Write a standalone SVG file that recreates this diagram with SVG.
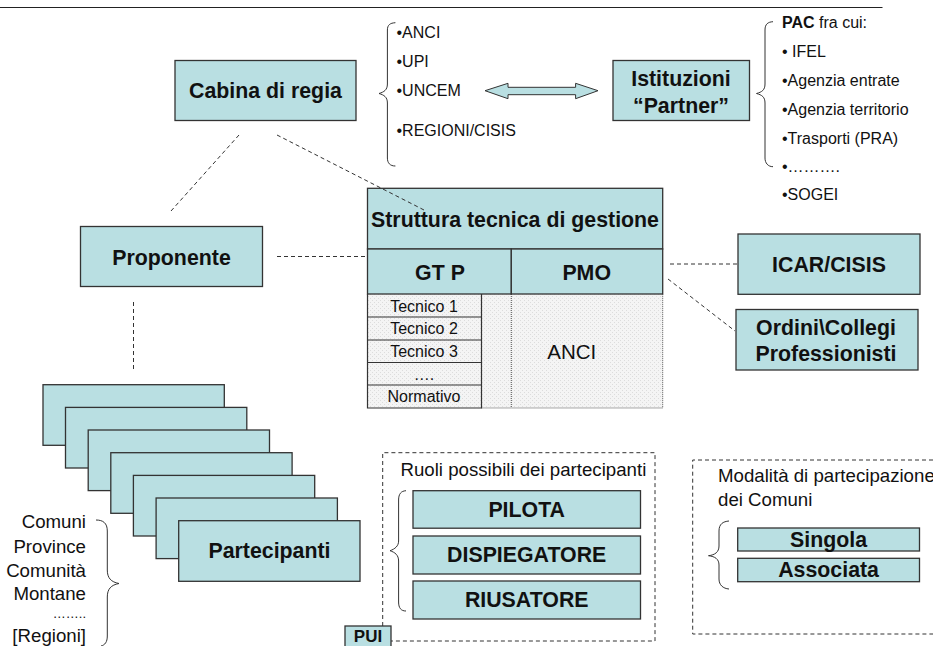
<svg xmlns="http://www.w3.org/2000/svg" width="933" height="646" viewBox="0 0 933 646">
<style>
text{font-family:"Liberation Sans",Arial,sans-serif;fill:#111}
.b{fill:#b9dfe2;stroke:#333;stroke-width:1.3}
.h{font-weight:bold;font-size:21.33px;text-anchor:middle}
.l{font-size:16px}
.m{font-size:18.67px}
.r{font-size:18.67px;text-anchor:end}
.t{font-size:16px;text-anchor:middle}
.br{fill:none;stroke:#333;stroke-width:1}
.d{fill:none;stroke:#333;stroke-width:1;stroke-dasharray:4 3}
</style>
<defs>
<pattern id="dots" width="4" height="4" patternUnits="userSpaceOnUse">
<rect width="4" height="4" fill="#f4f4f4"/>
<rect width="1" height="1" fill="#dcdcdc"/>
<rect x="2" y="2" width="1" height="1" fill="#dcdcdc"/>
</pattern>
</defs>
<rect width="933" height="646" fill="#fff"/>
<line id="top-rule" x1="0" y1="7.5" x2="882.5" y2="7.5" stroke="#222" stroke-width="1.2"/>

<g id="cabina"><rect class="b" x="175" y="60.5" width="181" height="60"/><text class="h" x="265.5" y="98">Cabina di regia</text></g>
<g id="proponente"><rect class="b" x="80.5" y="226.5" width="182" height="60"/><text class="h" x="171.5" y="264.5">Proponente</text></g>

<g id="enti">
<path class="br" d="M395.4 22.7C390 23 387.4 25 387.4 30V84C387.4 90 384 92 379 93.5C384 95 387.4 97 387.4 103V158C387.4 163 390 166 395.4 166"/>
<text class="l" x="396.500" y="38">•ANCI</text>
<text class="l" x="396.500" y="67">•UPI</text>
<text class="l" x="396.500" y="96">•UNCEM</text>
<text class="l" x="396.500" y="136">•REGIONI/CISIS</text>
</g>
<g id="istituzioni"><rect class="b" x="613" y="60.500" width="136.500" height="60"/><text class="h" x="681" y="86">Istituzioni</text><text class="h" x="681" y="112.500">“Partner”</text></g>
<g id="pac">
<path class="br" d="M773 21.700C768 22 765 24 765 30V84C765 90 762 92 756.500 93.500C762 95 765 97 765 103V158C765 163 768 166.700 773 166.700"/>
<text class="l" x="782" y="28"><tspan font-weight="bold">PAC</tspan> fra cui:</text>
<text class="l" x="782" y="57">• IFEL</text>
<text class="l" x="782" y="86">•Agenzia entrate</text>
<text class="l" x="782" y="114.500">•Agenzia territorio</text>
<text class="l" x="782" y="143.500">•Trasporti (PRA)</text>
<text class="l" x="782" y="172">•……….</text>
<text class="l" x="782" y="200">•SOGEI</text>
</g>

<g id="struttura">
<rect x="367.500" y="294" width="295" height="114" fill="url(#dots)"/>
<path d="M481.500 408H662.700V294M511.300 294V408" fill="none" stroke="#555" stroke-width="1" stroke-dasharray="1 1"/>
<rect class="b" x="367.500" y="188.300" width="295.200" height="60.700"/>
<text class="h" x="515" y="226.500">Struttura tecnica di gestione</text>
<rect class="b" x="367.500" y="249" width="143.800" height="45"/>
<rect class="b" x="511.300" y="249" width="151.400" height="45"/>
<text class="h" x="440" y="280">GT P</text>
<text class="h" x="586.700" y="280">PMO</text>
<path d="M367.500 294V408H481.500V294M367.500 317H481.500M367.500 340H481.500M367.500 362.500H481.500M367.500 385H481.500" fill="none" stroke="#333" stroke-width="1.200"/>
<text class="t" x="424" y="311.500">Tecnico 1</text>
<text class="t" x="424" y="334">Tecnico 2</text>
<text class="t" x="424" y="356.500">Tecnico 3</text>
<text class="t" x="424" y="380">….</text>
<text class="t" x="424" y="402">Normativo</text>
<text x="571.700" y="359" font-size="20.500" text-anchor="middle">ANCI</text>
</g>

<g id="icar"><rect class="b" x="738" y="234" width="182" height="60.300"/><text class="h" x="829" y="271.500">ICAR/CISIS</text></g>
<g id="ordini"><rect class="b" x="736" y="309.500" width="182" height="60.500"/><text class="h" x="826" y="335">Ordini\Collegi</text><text class="h" x="826" y="360.500">Professionisti</text></g>

<g id="partecipanti">
<rect class="b" x="43" y="384.700" width="181.300" height="60.600"/>
<rect class="b" x="65.500" y="407.400" width="181.300" height="60.600"/>
<rect class="b" x="88.200" y="430" width="181.300" height="60.600"/>
<rect class="b" x="110.800" y="452.700" width="181.300" height="60.600"/>
<rect class="b" x="133.400" y="475.400" width="181.300" height="60.600"/>
<rect class="b" x="156.100" y="498" width="181.300" height="60.600"/>
<rect class="b" x="178.700" y="520.700" width="181.300" height="60.600"/>
<text class="h" x="269.500" y="558">Partecipanti</text>
</g>
<g id="tipi-enti">
<text class="r" x="86" y="528">Comuni</text>
<text class="r" x="86" y="552.500">Province</text>
<text class="r" x="86" y="576.500">Comunità</text>
<text class="r" x="86" y="600">Montane</text>
<text x="86" y="618" font-size="13" text-anchor="end">……..</text>
<text class="r" x="86" y="641.500">[Regioni]</text>
<path class="br" d="M96 520C103 520 107.300 523 107.300 531V570C107.300 578 111 582 119 583.500C111 585 107.300 589 107.300 597V636C107.300 642 105 645 101 646"/>
</g>

<g id="ruoli">
<path class="d" d="M382.700 626V452.700H655V641H391"/>
<text class="m" x="400.500" y="475.700">Ruoli possibili dei partecipanti</text>
<path class="br" d="M406 490.700C401 491 398.600 494 398.600 500V541C398.600 546 395 549 390 550.700C395 552.400 398.600 555 398.600 561V602C398.600 608 401 611 406 611"/>
<rect class="b" x="413" y="490.700" width="227.500" height="37.500"/><text class="h" x="526.700" y="517">PILOTA</text>
<rect class="b" x="413" y="536" width="227.500" height="38"/><text class="h" x="526.700" y="562">DISPIEGATORE</text>
<rect class="b" x="413" y="581" width="227.500" height="38"/><text class="h" x="526.700" y="607">RIUSATORE</text>
</g>
<g id="pui"><rect class="b" x="345" y="626" width="46" height="30"/><text class="h" x="368" y="642.400" style="font-size:17px">PUI</text></g>

<g id="modalita">
<path class="d" d="M940 460H692.700V634H940"/>
<text class="m" x="718" y="481.700">Modalità di partecipazione</text>
<text class="m" x="718" y="506">dei Comuni</text>
<path class="br" d="M729 521C723 521.500 719 524 719 531V546C719 552 715 555 708.500 555.700C715 556.500 719 559 719 565V579C719 585 723 588.500 729 589"/>
<rect class="b" x="737.700" y="528" width="181.800" height="23"/><text class="h" x="828.600" y="547">Singola</text>
<rect class="b" x="737.700" y="558.300" width="181.800" height="23.400"/><text class="h" x="828.600" y="577">Associata</text>
</g>

<g id="connectors">
<line class="d" x1="239" y1="135" x2="171" y2="211"/>
<line class="d" x1="277" y1="135" x2="424" y2="210"/>
<line class="d" x1="277" y1="256.500" x2="366" y2="256.500"/>
<line class="d" x1="133.500" y1="302" x2="133.500" y2="369"/>
<line class="d" x1="670" y1="264" x2="737" y2="264"/>
<line class="d" x1="668" y1="279" x2="735" y2="331"/>
<path d="M485 90.700L508 83.300V87.300H575.600V83.300L598 90.700L575.600 98.700V94.700H508V98.700Z" fill="#b9dfe2" stroke="#333" stroke-width="1"/>
</g>
</svg>
